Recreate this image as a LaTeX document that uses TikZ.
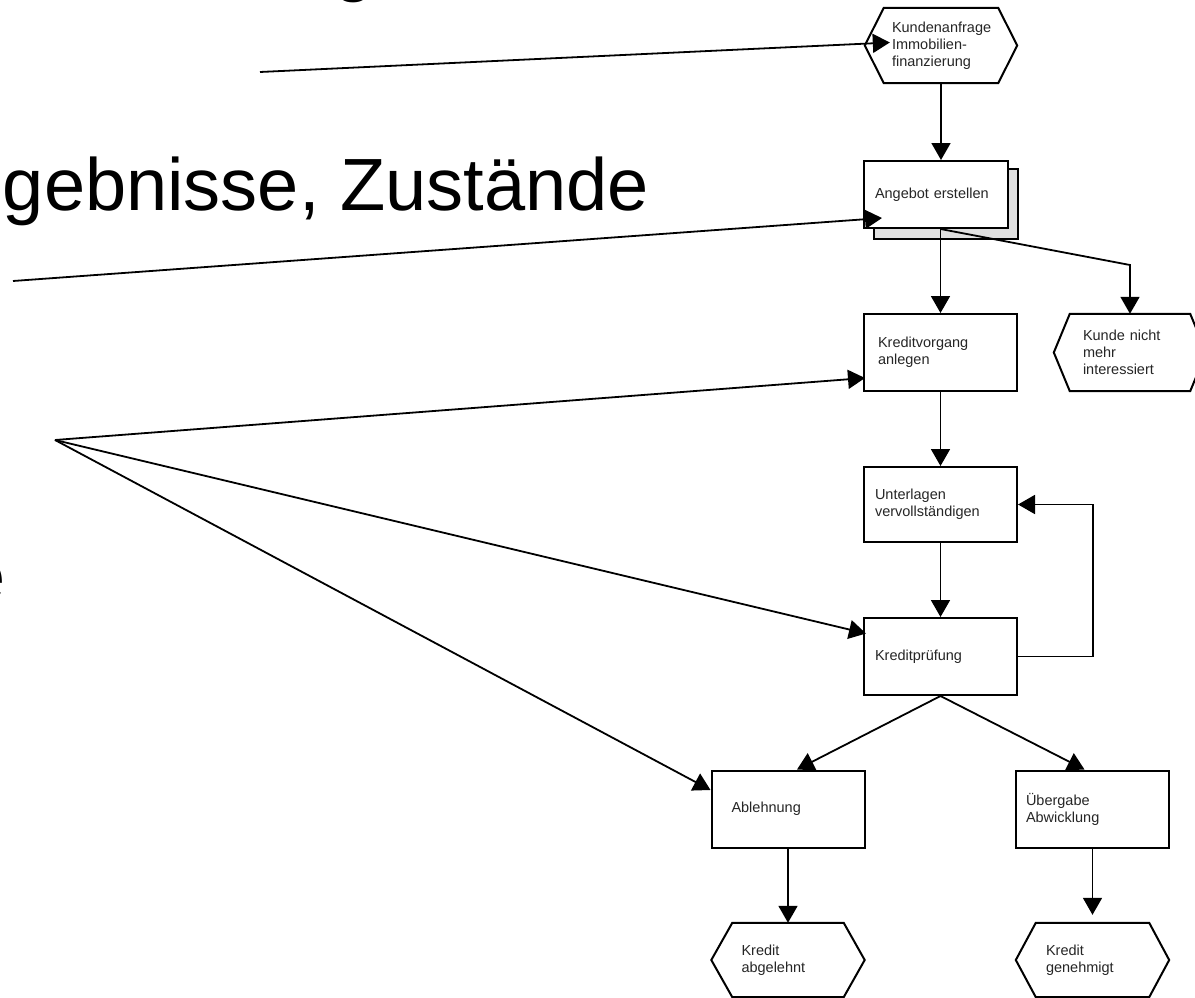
\documentclass[tikz,border=0pt]{standalone}
\usepackage{fontspec}
\setmainfont{Liberation Sans}
\usetikzlibrary{arrows.meta,calc,backgrounds}
\newcommand\hexpath[2][19]{\draw[line width=2pt, line join=miter] (#2.west) -- ($(#2.north west)+(#1,0)$) -- ($(#2.north east)+(-#1,0)$) -- (#2.east) -- ($(#2.south east)+(-#1,0)$) -- ($(#2.south west)+(#1,0)$) -- cycle;}
\begin{document}
\begin{tikzpicture}[x=1pt,y=-1pt,
  every node/.style={inner sep=0pt},
  diag/.style={font=\fontsize{14.5}{17}\selectfont, align=left, inner ysep=0pt, text=black!85},
  box/.style={diag, draw, line width=2pt, fill=white, minimum width=153pt, minimum height=77pt},
  hexn/.style={diag, minimum width=152pt, minimum height=75pt},
  big/.style={font=\fontsize{74}{80}\selectfont},
  conn/.style={line width=1.8pt, -{Triangle[length=17pt,width=19pt]}}]
\useasboundingbox (0,0) rectangle (1195,998);

% slide text fragments
\node[big, anchor=base east] (t1) at (649,210) {gebnisse, Zustände};
\node[big, anchor=base east] (t2) at (6,601) {e};
\node[big, anchor=base] (t3) at (354,-12) {g};

% nodes
\node[hexn, inner xsep=27pt, text width=98pt] (hex1) at (941,45.5) {Kundenanfrage\\Immobilien-\\finanzierung};
\node[box, minimum width=144pt, minimum height=67pt, inner xsep=11pt, text width=122pt] (angebot) at (936,194.5) {Angebot erstellen};
\node[box, inner xsep=14pt, text width=125pt] (kv) at (940.5,352.5) {Kreditvorgang\\anlegen};
\node[box, minimum height=75pt, inner xsep=11pt, text width=131pt] (unt) at (940.5,504.5) {Unterlagen\\vervollständigen};
\node[box, inner xsep=11pt, text width=131pt] (kp) at (940.5,656.5) {Kreditprüfung};
\node[box, inner xsep=20pt, text width=113pt] (abl) at (788,809) {Ablehnung};
\node[box, inner xsep=10pt, text width=133pt] (ueb) at (1092.5,809) {Übergabe\\Abwicklung};
\node[hexn, minimum height=77pt, inner xsep=29pt, text width=94pt] (kunde) at (1130,352.5) {Kunde nicht\\mehr\\interessiert};
\node[hexn, minimum width=153pt, minimum height=74pt, inner xsep=30pt, text width=93pt] (kab) at (788,960) {Kredit\\abgelehnt};
\node[hexn, minimum width=153pt, minimum height=74pt, inner xsep=30pt, text width=93pt] (kgen) at (1092.5,960) {Kredit\\genehmigt};

\hexpath{hex1}
\hexpath[16]{kunde}
\hexpath[21]{kab}
\hexpath[20]{kgen}

\begin{pgfonlayer}{background}
  \fill[white] (0,0) rectangle (1195,998);
  \draw[line width=2pt, fill=black!12] ($(angebot.north west)+(11,9)$) rectangle ($(angebot.south east)+(9,10)$);
\end{pgfonlayer}

% connectors in the flow
\draw[conn] (hex1.south) -- (hex1.south |- angebot.north);
\coordinate (abot) at (kv.north |- angebot.south);
\coordinate (kbend) at (1130,265);
\draw[conn] (abot) -- (kv.north);
\draw[conn] (abot) -- (kbend) -- (kunde.north);
\draw[conn] (kv.south) -- (unt.north);
\draw[conn] (unt.south) -- (kp.north);
\draw[conn] (kp.east) -- ++(75,0) |- (unt.east);
\draw[conn] (kp.south) -- ($(abl.north)+(9,0)$);
\draw[conn] (kp.south) -- ($(ueb.north)+(-8,0)$);
\draw[conn] (abl.south) -- (kab.north);
\draw[conn, shorten >=8pt] (ueb.south) -- (kgen.north);

% pointer lines from the slide
\coordinate (s1) at (260,72);
\coordinate (s2) at (13,281);
\coordinate (s3) at (55,440);
\draw[conn] (s1) -- ($(hex1.west)+(25,-3)$);
\draw[conn] (s2) -- ($(angebot.south west)+(19,-11)$);
\draw[conn] (s3) -- ($(kv.south west)+(2,-14)$);
\draw[conn] (s3) -- ($(kp.west)+(3,-23)$);
\draw[conn] (s3) -- ($(abl.west)+(0,-19)$);
\end{tikzpicture}
\end{document}
